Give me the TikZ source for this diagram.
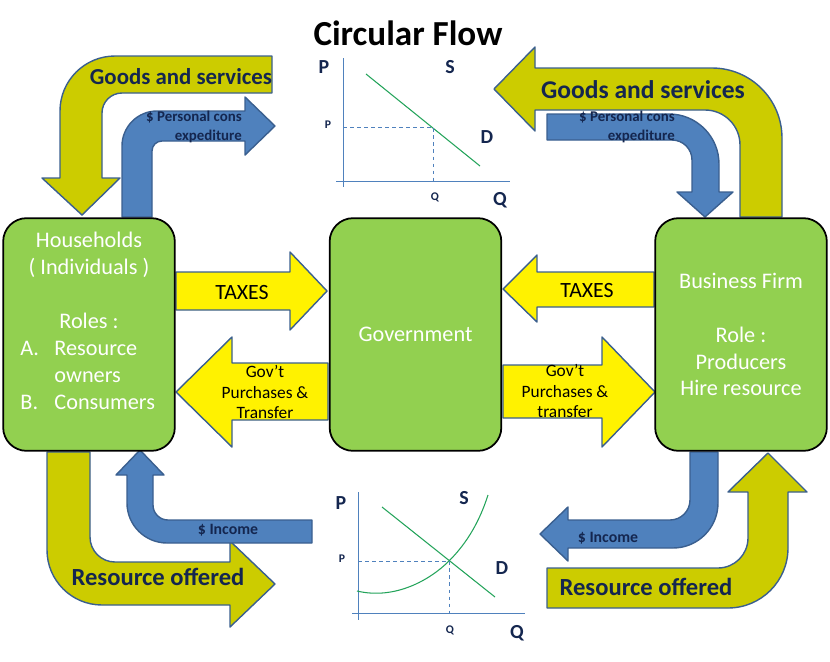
\documentclass[tikz,border=0pt]{standalone}
\usepackage{fontspec}
\setmainfont{Carlito}
\definecolor{flowyellow}{HTML}{CCCC00}
\definecolor{flowblue}{HTML}{4F81BD}
\definecolor{flowedge}{HTML}{3A5F8F}
\definecolor{boxgreen}{HTML}{92D050}
\definecolor{navytext}{HTML}{14264F}
\definecolor{curvegreen}{HTML}{23A35A}
\newcommand{\roleline}[2]{\makebox[117pt][l]{\makebox[29pt][l]{#1}#2}}
\begin{document}
\begin{tikzpicture}[x=0.03cm,y=-0.03cm,
  bigarrow/.style={fill=flowyellow,draw=flowedge,line width=1.2pt,line join=round},
  cashflow/.style={fill=flowblue,draw=flowedge,line width=1.2pt,line join=round},
  govarrow/.style={fill=yellow,draw=flowedge,line width=1.2pt,line join=round},
  box/.style={draw=black,line width=1.5pt,fill=boxgreen,rounded corners=20pt,
    minimum width=5.15cm,minimum height=6.98cm,align=center,text=white,
    font=\fontsize{19}{23}\selectfont},
  arrowtext/.style={text=navytext,inner sep=0pt},
  midtext/.style={text=black,inner sep=0pt,align=center},
  axis/.style={draw=flowblue,line width=0.8pt},
  curve/.style={draw=curvegreen,line width=0.9pt},
  guide/.style={draw=flowblue,line width=0.7pt,dashed},
  biglabel/.style={text=navytext,inner sep=0pt,font=\bfseries\fontsize{17}{20}\selectfont},
  smalllabel/.style={text=navytext,inner sep=0pt,font=\bfseries\fontsize{10}{12}\selectfont}]
\useasboundingbox (0,0) rectangle (830,661);

\draw[bigarrow] (272,56) -- (115,56) arc[start angle=270,end angle=180,radius=55]
  -- (60,178) -- (42,178) -- (82,215) -- (120,178) -- (102,178) -- (102,113)
  arc[start angle=180,end angle=270,radius=20] -- (272,93) -- cycle;
\draw[bigarrow] (494,89) -- (535,47) -- (535,68) -- (712,68)
  arc[start angle=270,end angle=360,radius=70] -- (782,217) -- (740,217) -- (740,145)
  arc[start angle=0,end angle=-90,radius=35] -- (535,110) -- (535,131) -- cycle;
\draw[bigarrow] (47,452) -- (47,550) arc[start angle=180,end angle=90,radius=55]
  -- (230,605) -- (230,627) -- (275,584) -- (230,541) -- (230,562) -- (115,562)
  arc[start angle=90,end angle=180,radius=25] -- (90,452) -- cycle;
\draw[bigarrow] (547,568) -- (718,568) arc[start angle=90,end angle=0,radius=30]
  -- (748,492) -- (728,492) -- (768,453) -- (807,492) -- (788,492) -- (788,548)
  arc[start angle=0,end angle=90,radius=60] -- (547,608) -- cycle;

\draw[cashflow] (122,217) -- (122,146) arc[start angle=180,end angle=270,radius=35]
  -- (245,111) -- (245,97) -- (275,126) -- (245,155) -- (245,141) -- (162,141)
  arc[start angle=270,end angle=180,radius=10] -- (152,217) -- cycle;
\draw[cashflow] (547,114) -- (669,114) arc[start angle=270,end angle=360,radius=50]
  -- (719,192) -- (733,192) -- (705,217) -- (677,192) -- (692,192) -- (692,160)
  arc[start angle=0,end angle=-90,radius=20] -- (547,140) -- cycle;
\draw[cashflow] (140,450) -- (164,475) -- (153,475) -- (153,505)
  arc[start angle=180,end angle=90,radius=15] -- (312,520) -- (312,543) -- (167,543)
  arc[start angle=90,end angle=180,radius=40] -- (127,475) -- (116,475) -- cycle;
\draw[cashflow] (690,452) -- (690,500) arc[start angle=0,end angle=90,radius=20]
  -- (568,520) -- (568,507) -- (540,534) -- (568,561) -- (568,548) -- (673,548)
  arc[start angle=90,end angle=0,radius=45] -- (718,452) -- cycle;

\draw[govarrow] (176,272) -- (290,272) -- (290,252) -- (327,291) -- (290,330) -- (290,310) -- (176,310) -- cycle;
\draw[govarrow] (176,392) -- (232,337) -- (232,363) -- (328,363) -- (328,420) -- (232,420) -- (232,447) -- cycle;
\draw[govarrow] (503,289) -- (537,255) -- (537,272) -- (654,272) -- (654,307) -- (537,307) -- (537,322) -- cycle;
\draw[govarrow] (503,365) -- (602,365) -- (602,337) -- (655,392) -- (602,447) -- (602,418) -- (503,418) -- cycle;

\node[box] (households) at (89,334.5) {Households\\( Individuals )\\[23pt]Roles :\\
  \roleline{A.}{Resource}\\\roleline{}{owners}\\\roleline{B.}{Consumers}\\\mbox{}};
\node[box] (government) at (415.5,334.5) {Government};
\node[box] (firm) at (741,334.5) {Business Firm\\[23pt]Role :\\Producers\\Hire resource};

\node[inner sep=0pt,font=\bfseries\fontsize{30}{36}\selectfont] (title) at (408,33) {Circular Flow};

\node[arrowtext,font=\bfseries\fontsize{19.5}{23}\selectfont] (goodsL) at (181,77) {Goods and services};
\node[arrowtext,font=\bfseries\fontsize{21.8}{26}\selectfont] (goodsR) at (643,90) {Goods and services};
\node[arrowtext,align=right,anchor=east,font=\bfseries\fontsize{12.7}{16}\selectfont] (spendL) at (242,127) {\$ Personal cons\\expediture};
\node[arrowtext,align=right,anchor=east,font=\bfseries\fontsize{12.7}{16}\selectfont] (spendR) at (675,127) {\$ Personal cons\\expediture};
\node[arrowtext,font=\bfseries\fontsize{13.5}{16}\selectfont] (incomeL) at (228,530) {\$ Income};
\node[arrowtext,font=\bfseries\fontsize{13.5}{16}\selectfont] (incomeR) at (608,538) {\$ Income};
\node[arrowtext,font=\bfseries\fontsize{21}{25}\selectfont] (resourceL) at (158,577) {Resource offered};
\node[arrowtext,font=\bfseries\fontsize{21}{25}\selectfont] (resourceR) at (646,587) {Resource offered};

\node[midtext,font=\fontsize{18.6}{22}\selectfont] (taxesL) at (242,292) {TAXES};
\node[midtext,font=\fontsize{18.6}{22}\selectfont] (taxesR) at (587,290) {TAXES};
\node[midtext,font=\fontsize{14.8}{17.5}\selectfont] (purchL) at (265,392) {Gov’t\\Purchases \&\\Transfer};
\node[midtext,font=\fontsize{14.8}{17.5}\selectfont] (purchR) at (565,391) {Gov’t\\Purchases \&\\transfer};

\draw[axis] (343,58) -- (343,187);
\draw[axis] (336,181) -- (510,181);
\draw[curve] (366,74) -- (480,166);
\draw[guide] (343,127) -- (433,127) -- (433,181);
\node[biglabel] (pTop) at (324,67) {P};
\node[biglabel] (sTop) at (450,67) {S};
\node[smalllabel] (pTopSmall) at (328,125) {P};
\node[biglabel] (dTop) at (487,137) {D};
\node[smalllabel] (qTopSmall) at (435,197) {Q};
\node[biglabel] (qTop) at (500,200) {Q};

\draw[axis] (358,492) -- (358,620);
\draw[axis] (352,613) -- (525,613);
\draw[curve] (382,507) -- (495,597);
\draw[curve] (357,591) .. controls (395,600) and (430,580) .. (449,561)
  .. controls (468,542) and (480,520) .. (488,495);
\draw[guide] (358,561) -- (449,561) -- (449,613);
\node[biglabel] (pBot) at (341,503) {P};
\node[biglabel] (sBot) at (464,498) {S};
\node[smalllabel] (pBotSmall) at (342,559) {P};
\node[biglabel] (dBot) at (502,568) {D};
\node[smalllabel] (qBotSmall) at (450,630) {Q};
\node[biglabel] (qBot) at (517,633) {Q};
\end{tikzpicture}
\end{document}
